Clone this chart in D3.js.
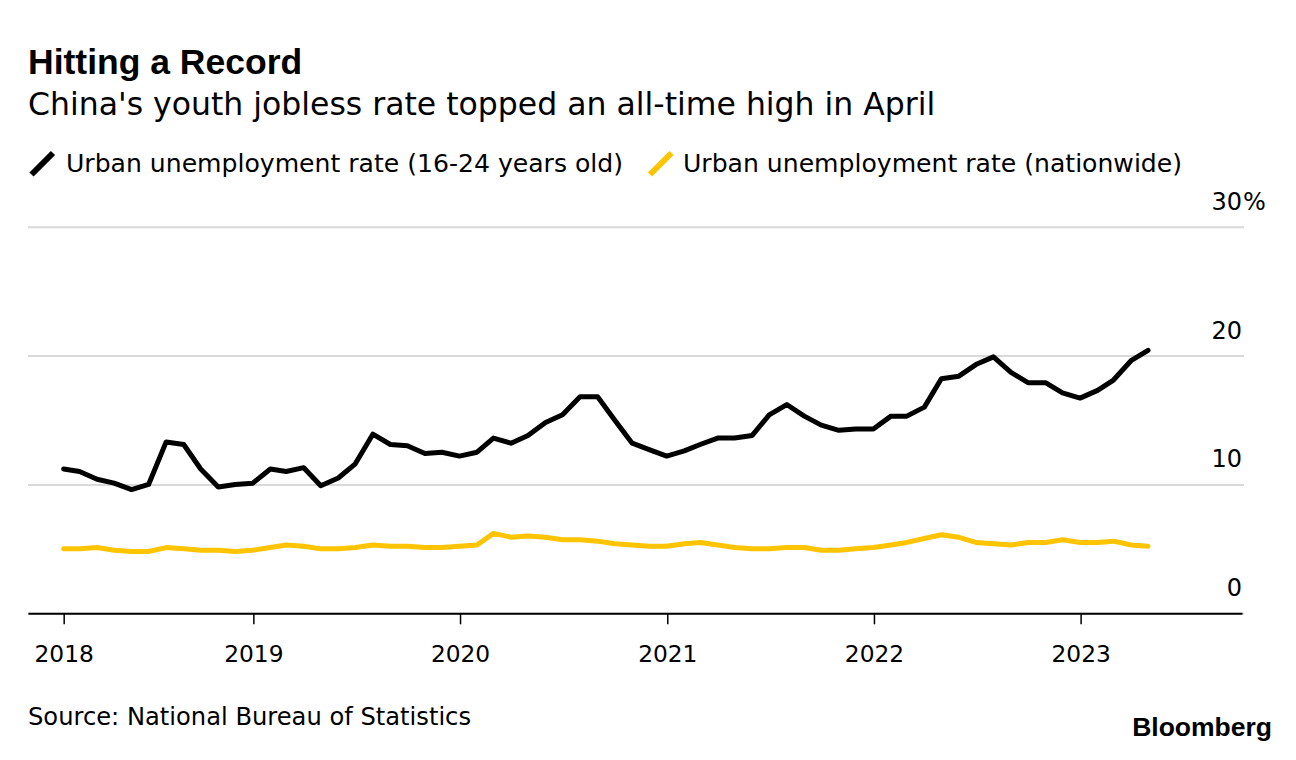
<!DOCTYPE html>
<html>
<head>
<meta charset="utf-8">
<script src="https://cdn.jsdelivr.net/npm/d3@7"></script>
<style>
  html, body { margin: 0; padding: 0; background: #ffffff; }
  svg { display: block; }
</style>
</head>
<body>
<svg id="chart" width="1296" height="760"></svg>
<script>
// ---------- data ----------
const months = [
  "2018-01","2018-02","2018-03","2018-04","2018-05","2018-06","2018-07","2018-08","2018-09","2018-10","2018-11","2018-12",
  "2019-01","2019-02","2019-03","2019-04","2019-05","2019-06","2019-07","2019-08","2019-09","2019-10","2019-11","2019-12",
  "2020-01","2020-02","2020-03","2020-04","2020-05","2020-06","2020-07","2020-08","2020-09","2020-10","2020-11","2020-12",
  "2021-01","2021-02","2021-03","2021-04","2021-05","2021-06","2021-07","2021-08","2021-09","2021-10","2021-11","2021-12",
  "2022-01","2022-02","2022-03","2022-04","2022-05","2022-06","2022-07","2022-08","2022-09","2022-10","2022-11","2022-12",
  "2023-01","2023-02","2023-03","2023-04"
];
// Urban unemployment rate (16-24 years old), %
const youthRate = [
  11.2,11.0,10.4,10.1, 9.6,10.0,13.3,13.1,11.2, 9.8,10.0,10.1,
  11.2,11.0,11.3, 9.9,10.5,11.6,13.9,13.1,13.0,12.4,12.5,12.2,
  12.5,13.6,13.2,13.8,14.8,15.4,16.8,16.8,15.0,13.2,12.7,12.2,
  12.6,13.1,13.6,13.6,13.8,15.4,16.2,15.3,14.6,14.2,14.3,14.3,
  15.3,15.3,16.0,18.2,18.4,19.3,19.9,18.7,17.9,17.9,17.1,16.7,
  17.3,18.1,19.6,20.4
];
// Urban unemployment rate (nationwide), %
const nationRate = [
  5.0,5.0,5.1,4.9,4.8,4.8,5.1,5.0,4.9,4.9,4.8,4.9,
  5.1,5.3,5.2,5.0,5.0,5.1,5.3,5.2,5.2,5.1,5.1,5.2,
  5.3,6.2,5.9,6.0,5.9,5.7,5.7,5.6,5.4,5.3,5.2,5.2,
  5.4,5.5,5.3,5.1,5.0,5.0,5.1,5.1,4.9,4.9,5.0,5.1,
  5.3,5.5,5.8,6.1,5.9,5.5,5.4,5.3,5.5,5.5,5.7,5.5,
  5.5,5.6,5.3,5.2
];
const seriesNames = ["Urban unemployment rate (16-24 years old)", "Urban unemployment rate (nationwide)"];
const xTickLabels = ["2018","2019","2020","2021","2022","2023"];
const yTickValues = [0, 10, 20, 30];

// ---------- layout ----------
const W = 1296, H = 760;
const plotLeft = 28, plotRight = 1242, gridRight = 1244;
const yBottom = 613.3, yTop = 226.7;
const colors = ["#000000", "#ffc400"];
const bodyFont = "'DejaVu Sans', sans-serif";
const headFont = "'Liberation Sans', Arial, sans-serif";

const parseMonth = d3.timeParse("%Y-%m");
const monthEnd = m => d3.timeDay.offset(d3.timeMonth.offset(parseMonth(m), 1), -1);
const dates = months.map(monthEnd);

// tick dates: first at start of data, others at 1 January
const xTickDates = xTickLabels.map((yr, i) => i === 0 ? dates[0] : new Date(+yr, 0, 1));

const svg = d3.select("#chart");

const x = d3.scaleTime()
  .domain([new Date(2017, 10, 29), new Date(2023, 9, 13)])
  .range([plotLeft, plotRight]);
const y = d3.scaleLinear().domain([0, 30]).range([yBottom, yTop]);

// ---------- titles ----------
svg.append("text")
  .attr("x", 28).attr("y", 74)
  .style("font-family", headFont).style("font-weight", "bold")
  .style("font-size", "35.5px").attr("fill", "#000")
  .text("Hitting a Record");

svg.append("text")
  .attr("x", 28).attr("y", 115)
  .style("font-family", bodyFont).style("font-size", "31.5px").attr("fill", "#000")
  .text("China's youth jobless rate topped an all-time high in April");

// ---------- legend ----------
const legendItems = [
  { name: seriesNames[0], color: colors[0], ix: 31.5, tx: 66 },
  { name: seriesNames[1], color: colors[1], ix: 650, tx: 683 }
];
legendItems.forEach(it => {
  svg.append("line")
    .attr("x1", it.ix).attr("y1", 174.5)
    .attr("x2", it.ix + 21.5).attr("y2", 153)
    .attr("stroke", it.color).attr("stroke-width", 6);
  svg.append("text")
    .attr("x", it.tx).attr("y", 172)
    .style("font-family", bodyFont).style("font-size", "25.1px").attr("fill", "#000")
    .text(it.name);
});

// ---------- y axis / gridlines ----------
const yAxis = d3.axisRight(y)
  .tickValues(yTickValues)
  .tickSize(gridRight - plotLeft)
  .tickFormat(d => d);
const gy = svg.append("g").attr("transform", `translate(${plotLeft},0)`).call(yAxis);
gy.select(".domain").remove();
gy.selectAll(".tick line").attr("stroke", "#d9d9d9").attr("stroke-width", 2);
gy.selectAll(".tick text")
  .attr("x", plotRight - plotLeft).attr("y", -17.5).attr("dy", 0)
  .attr("text-anchor", "end")
  .style("font-family", bodyFont).style("font-size", "24px").attr("fill", "#000");
gy.selectAll(".tick").filter(d => d === d3.max(yTickValues))
  .append("text")
  .attr("x", plotRight - plotLeft + 1).attr("y", -17.5)
  .attr("text-anchor", "start")
  .style("font-family", bodyFont).style("font-size", "24px").attr("fill", "#000")
  .text("%");

// ---------- lines ----------
const line = d3.line()
  .x((d, i) => x(dates[i]))
  .y(d => y(d));

svg.append("path")
  .datum(nationRate)
  .attr("d", line)
  .attr("fill", "none").attr("stroke", colors[1])
  .attr("stroke-width", 5).attr("stroke-linejoin", "round").attr("stroke-linecap", "round");

svg.append("path")
  .datum(youthRate)
  .attr("d", line)
  .attr("fill", "none").attr("stroke", colors[0])
  .attr("stroke-width", 5).attr("stroke-linejoin", "round").attr("stroke-linecap", "round");

// ---------- x axis ----------
const xAxis = d3.axisBottom(x)
  .tickValues(xTickDates)
  .tickSize(11).tickSizeOuter(0)
  .tickFormat((d, i) => xTickLabels[i]);
const gx = svg.append("g").attr("transform", `translate(0,${yBottom})`).call(xAxis);
gx.select(".domain").attr("stroke", "#000").attr("stroke-width", 2);
gx.selectAll(".tick line").attr("stroke", "#000").attr("stroke-width", 1.5);
gx.selectAll(".tick text")
  .attr("y", 48.7).attr("dy", 0)
  .style("font-family", bodyFont).style("font-size", "23.3px").attr("fill", "#000");

// ---------- footer ----------
svg.append("text")
  .attr("x", 28).attr("y", 725)
  .style("font-family", bodyFont).style("font-size", "24.2px").attr("fill", "#000")
  .text("Source: National Bureau of Statistics");

svg.append("text")
  .attr("x", 1272).attr("y", 736).attr("text-anchor", "end")
  .style("font-family", headFont).style("font-weight", "bold")
  .style("font-size", "26.5px").attr("fill", "#000")
  .text("Bloomberg");
</script>
</body>
</html>
